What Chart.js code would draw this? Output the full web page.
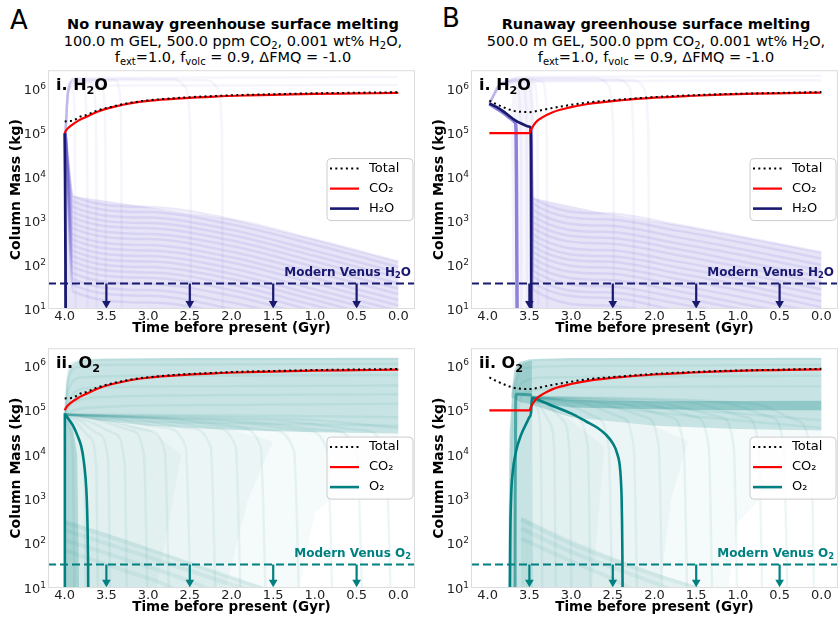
<!DOCTYPE html>
<html>
<head>
<meta charset="utf-8">
<script src="https://cdn.jsdelivr.net/npm/chart.js@4.4.1/dist/chart.umd.min.js"></script>
<style>
  body { margin: 0; width: 838px; height: 621px; overflow: hidden; background: #fff; position: relative; font-family: "DejaVu Sans", sans-serif; color: #000; }
  canvas { position: absolute; }
  .letra { position: absolute; font-size: 26px; line-height: 1; }
  .titulo { position: absolute; width: 466px; text-align: center; white-space: nowrap; font-size: 14.5px; line-height: 16.5px; }
  .titulo b { display: block; }
  sub { font-size: 10px; vertical-align: -3px; line-height: 0; }
</style>
</head>
<body>
<div class="letra" style="left:10px;top:7px">A</div>
<div class="letra" style="left:442px;top:5px">B</div>
<div class="titulo" style="left:0;top:16px">
  <b>No runaway greenhouse surface melting</b>
  <div>100.0 m GEL, 500.0 ppm CO<sub>2</sub>, 0.001 wt% H<sub>2</sub>O,</div>
  <div>f<sub>ext</sub>=1.0, f<sub>volc</sub> = 0.9, ΔFMQ = -1.0</div>
</div>
<div class="titulo" style="left:423px;top:16px">
  <b>Runaway greenhouse surface melting</b>
  <div>500.0 m GEL, 500.0 ppm CO<sub>2</sub>, 0.001 wt% H<sub>2</sub>O,</div>
  <div>f<sub>ext</sub>=1.0, f<sub>volc</sub> = 0.9, ΔFMQ = -1.0</div>
</div>
<canvas id="cA1" width="420" height="277" style="left:0;top:60px"></canvas>
<canvas id="cA2" width="420" height="278" style="left:0;top:338px"></canvas>
<canvas id="cB1" width="420" height="277" style="left:423px;top:60px"></canvas>
<canvas id="cB2" width="420" height="278" style="left:423px;top:338px"></canvas>
<script>
/* ========================
   Eixos e referências
   ======================== */
const xTicks = [4.0, 3.5, 3.0, 2.5, 2.0, 1.5, 1.0, 0.5, 0.0];
const yTicks = [1e1, 1e2, 1e3, 1e4, 1e5, 1e6];
const arrowTimes = [3.5, 2.5, 1.5, 0.5];
const venusH2O = 38;      // kg, Vênus moderno
const venusO2 = 34;
const arrowTip = 13.4;    // centro da ponta da seta

/* ========================
   A - sem derretimento (curvas principais)
   ======================== */
const co2A = [[4.0,1.0e5],[3.98,1.17e5],[3.95,1.35e5],[3.9,1.6e5],[3.85,1.85e5],[3.75,2.3e5],[3.6,3.1e5],[3.4,4.0e5],[3.2,4.8e5],[3.0,5.4e5],[2.6,6.2e5],[2.2,6.8e5],[1.8,7.2e5],[1.4,7.5e5],[1.0,7.8e5],[0.5,8.0e5],[0.0,8.2e5]];
const totalA = [[4.0,1.85e5],[3.92,1.9e5],[3.87,2.05e5],[3.83,2.3e5],[3.75,2.55e5],[3.6,3.3e5],[3.4,4.15e5],[3.2,4.95e5],[3.0,5.55e5],[2.6,6.4e5],[2.2,7.0e5],[1.8,7.45e5],[1.4,7.75e5],[1.0,8.05e5],[0.5,8.3e5],[0.0,8.5e5]];
const h2oA = [[4.0,1.0e5],[3.995,1e4],[3.99,1e2],[3.988,1]];
const o2A = [[3.998,1],[3.998,8e4],[3.95,6.2e4],[3.9,4.5e4],[3.85,2.8e4],[3.8,1.5e4],[3.77,7e3],[3.75,3e3],[3.735,1e3],[3.725,2e2],[3.72,40],[3.718,10],[3.717,1]];

// conjunto de simulações - H2O (A)
const h2oBandA = [
  [[3.99,1e5],[3.9,3700],[3.0,2100],[2.0,1100],[1.0,380],[0,120]],
  [[3.99,1e5],[3.9,2800],[3.0,1600],[2.0,840],[1.0,290],[0,90]],
  [[3.99,1e5],[3.9,2100],[3.0,1200],[2.0,630],[1.0,210],[0,68]],
  [[3.99,1e5],[3.9,1600],[3.0,900],[2.0,480],[1.0,160],[0,52]],
  [[3.99,1e5],[3.9,1200],[3.0,690],[2.0,360],[1.0,120],[0,38]],
  [[3.99,1e5],[3.9,900],[3.0,510],[2.0,270],[1.0,90],[0,29]],
  [[3.99,1e5],[3.9,680],[3.0,390],[2.0,200],[1.0,68],[0,22]],
  [[3.99,1e5],[3.9,500],[3.0,285],[2.0,150],[1.0,50],[0,16]],
  [[3.99,1e5],[3.9,380],[3.0,215],[2.0,114],[1.0,38],[0,12]],
  [[3.99,1e5],[3.9,280],[3.0,160],[2.0,84],[1.0,28],[0,9]],
  [[3.99,1e5],[3.9,210],[3.0,120],[2.0,63],[1.0,21],[0,7]],
  [[3.99,1e5],[3.9,160],[3.0,90],[2.0,48],[1.0,16],[0,5]],
  [[3.99,1e5],[3.9,120],[3.0,68],[2.0,36],[1.0,12],[0,4]],
  [[3.99,1e5],[3.9,90],[3.0,51],[2.0,27],[1.0,9],[0,3]],
  [[3.99,1e5],[3.9,65],[3.0,37],[2.0,20],[1.0,6.5],[0,2]],
  [[3.99,1e5],[3.9,48],[3.0,27],[2.0,14],[1.0,5],[0,1.5]],
  [[3.99,1e5],[3.9,35],[3.0,20],[2.0,10],[1.0,3.5],[0,1.1]],
  [[3.99,1e5],[3.9,25],[3.0,14],[2.0,7.5],[1.0,2.5],[0,0.8]]
];
const h2oWashA = [[3.99,1e5],[3.9,3700],[3.0,2100],[2.0,1100],[1.0,380],[0,120],[0,1],[3.99,1]];
const h2oHighA = [
  [[3.99,1e5],[3.97,6e5],[3.93,1.1e6],[3.9,9e5],[3.88,2e5],[3.875,1e4],[3.87,1]],
  [[3.99,1e5],[3.96,8e5],[3.9,1.3e6],[3.78,1.2e6],[3.74,3e5],[3.73,1e4],[3.725,1]],
  [[3.99,1e5],[3.96,8e5],[3.9,1.4e6],[3.68,1.4e6],[3.63,4e5],[3.62,1e4],[3.615,1]],
  [[3.99,1e5],[3.96,9e5],[3.9,1.5e6],[3.58,1.5e6],[3.52,4e5],[3.51,1e4],[3.505,1]],
  [[3.99,1e5],[3.96,9e5],[3.9,1.6e6],[3.4,1.6e6],[3.33,5e5],[3.32,1e4],[3.315,1]],
  [[3.99,1e5],[3.96,9e5],[3.88,1.7e6],[2.7,1.7e6],[2.55,1.1e6],[2.5,2e5],[2.49,1e4],[2.485,1]],
  [[3.99,1e5],[3.96,9e5],[3.88,1.6e6],[2.3,1.6e6],[2.16,1.0e6],[2.12,2e5],[2.11,1e4],[2.105,1]],
  [[3.99,1e5],[3.96,9e5],[3.88,1.8e6],[0,1.9e6]],
  [[3.99,1e5],[3.96,8e5],[3.88,1.2e6],[0,1.25e6]]
];

// conjunto de simulações - O2 (A)
const o2WashA = [[3.998,8e4],[3.98,4e5],[3.95,8e5],[3.9,1.15e6],[3.8,1.35e6],[3.5,1.45e6],[2.5,1.5e6],[0,1.5e6],[0,3e4],[1.0,3.2e4],[2.0,3.6e4],[3.0,4.5e4],[3.6,6e4],[3.9,7.5e4]];
const o2MidA = [
  [[3.998,8e4],[3.0,4.5e4],[2.0,3.6e4],[1.0,3.2e4],[0,3e4],[0,1e4],[0.5,3e3],[1.0,5e2],[1.3,1],[3.998,1]],
  [[3.998,8e4],[3.0,4.5e4],[2.0,3.6e4],[1.5,2e4],[1.8,1e3],[2.2,1],[3.998,1]],
  [[3.998,8e4],[3.0,4e4],[2.6,1e4],[2.8,1e2],[3.0,1],[3.998,1]]
];
const o2ColumnA = [[3.998,8e4],[3.9,4e4],[3.85,1e4],[3.82,1],[3.998,1]];
const o2WedgeA = [[3.998,350],[3.5,170],[3.0,80],[2.5,38],[2.0,18],[1.5,9],[1.5,5],[3.998,5]];
const o2LowA = [
  [[3.998,300],[3.0,75],[2.0,17],[1.5,8]],
  [[3.998,200],[3.0,50],[2.0,12],[1.7,8]],
  [[3.998,120],[3.0,30],[2.4,12],[2.2,8]],
  [[3.998,70],[3.2,22],[2.8,12],[2.6,8]]
];
const o2StreaksA = [
  [[3.998,8e4],[3.97,5e5],[3.9,1.2e6],[3.6,1.4e6],[0,1.45e6]],
  [[3.998,8e4],[3.96,4e5],[3.88,9e5],[3.5,1.05e6],[0,1.1e6]],
  [[3.998,8e4],[3.95,3e5],[3.8,5.5e5],[3.0,6e5],[0,6.2e5]],
  [[3.998,8e4],[3.93,2e5],[3.7,3.2e5],[2.5,3.5e5],[0,3.6e5]],
  [[3.998,8e4],[3.9,1.5e5],[3.5,2e5],[2.0,2.2e5],[0,2.3e5]],
  [[3.998,8e4],[3.8,1.1e5],[2.5,1.3e5],[0,1.4e5]],
  [[3.998,8e4],[3.5,8e4],[1.5,7.5e4],[0,7e4]],
  [[3.998,8e4],[3.3,6e4],[1.5,5e4],[0,4.5e4]]
];
const o2FanA = [
  [[3.998,8e4],[3.95,4e4],[3.9,1e4],[3.88,1]],
  [[3.998,8e4],[3.9,4.5e4],[3.8,1.5e4],[3.76,2e3],[3.75,1]],
  [[3.998,8e4],[3.85,5e4],[3.7,2.5e4],[3.62,5e3],[3.6,1]],
  [[3.998,8e4],[3.8,5.5e4],[3.6,3e4],[3.48,8e3],[3.45,1]],
  [[3.998,8e4],[3.7,5.5e4],[3.4,3e4],[3.28,6e3],[3.25,1]],
  [[3.998,8e4],[3.6,6e4],[3.2,3.5e4],[3.05,1e4],[3.0,1]],
  [[3.998,8e4],[3.5,6e4],[3.0,3.5e4],[2.8,1.2e4],[2.74,1]],
  [[3.998,8e4],[3.4,6.5e4],[2.8,4e4],[2.55,1.5e4],[2.48,1]],
  [[3.998,8e4],[3.2,6.5e4],[2.5,4e4],[2.25,1.5e4],[2.18,1]],
  [[3.998,8e4],[3.0,6.5e4],[2.2,4e4],[1.95,1.5e4],[1.88,1]],
  [[3.998,8e4],[2.8,6.5e4],[1.9,4e4],[1.65,1.5e4],[1.58,1]],
  [[3.998,8e4],[2.5,6e4],[1.5,3.5e4],[1.25,1.2e4],[1.18,1]],
  [[3.998,8e4],[2.2,6e4],[1.1,3.5e4],[0.85,1.2e4],[0.78,1]],
  [[3.998,8e4],[2.0,6e4],[0.8,3.5e4],[0.5,1.2e4],[0.42,1]],
  [[3.998,8e4],[1.5,6e4],[0.4,3.5e4],[0.15,1e4],[0.08,1]],
  [[3.998,8e4],[1.0,6e4],[0,4e4]]
];

/* ========================
   B - com derretimento (curvas principais)
   ======================== */
const co2B = [[3.98,1.0e5],[3.5,1.0e5],[3.48,1.2e5],[3.45,1.5e5],[3.42,1.8e5],[3.35,2.25e5],[3.22,3.0e5],[3.0,3.9e5],[2.8,4.6e5],[2.4,5.6e5],[2.0,6.4e5],[1.6,7.0e5],[1.2,7.5e5],[0.8,7.9e5],[0.4,8.1e5],[0.0,8.3e5]];
const totalB = [[3.98,5.5e5],[3.9,4.6e5],[3.8,3.8e5],[3.7,3.25e5],[3.6,3.05e5],[3.5,3.0e5],[3.4,3.2e5],[3.3,3.5e5],[3.2,3.8e5],[3.0,4.4e5],[2.8,5.0e5],[2.4,5.8e5],[2.0,6.6e5],[1.6,7.2e5],[1.2,7.7e5],[0.8,8.0e5],[0.4,8.3e5],[0.0,8.6e5]];
const h2oB = [[3.98,4.7e5],[3.89,3.9e5],[3.8,3.0e5],[3.68,2.0e5],[3.58,1.6e5],[3.5,1.4e5],[3.485,1.3e5],[3.48,1e4],[3.478,1e2],[3.476,1]];
const h2oClusterB = [[3.98,4.6e5],[3.9,3.7e5],[3.8,2.8e5],[3.72,2.1e5],[3.67,1.75e5],[3.66,1.2e5],[3.655,1e4],[3.65,1e2],[3.645,1]];
const o2B = [[3.735,1],[3.733,10],[3.73,1e2],[3.72,1e3],[3.70,4e3],[3.66,1.2e4],[3.6,2.8e4],[3.55,4.5e4],[3.5,7e4],[3.48,9e4],[3.47,1.9e5],[3.44,1.85e5],[3.22,1.25e5],[3.0,8.5e4],[2.82,5.6e4],[2.68,4e4],[2.58,2.8e4],[2.5,1.8e4],[2.45,1.1e4],[2.41,4.3e3],[2.395,1.2e3],[2.39,4e2],[2.385,60],[2.38,1]];
const o2ClusterB = [[3.47,2.2e5],[3.6,2.3e5],[3.655,2.3e5],[3.665,1e5],[3.67,1e3],[3.672,1]];

// conjunto de simulações - H2O (B)
const h2oBandB = [
  [[3.48,1.3e5],[3.46,3400],[2.6,1500],[1.7,800],[0.85,400],[0,195]],
  [[3.48,1.3e5],[3.46,2500],[2.6,1100],[1.7,590],[0.85,295],[0,140]],
  [[3.48,1.3e5],[3.46,1800],[2.6,790],[1.7,420],[0.85,210],[0,100]],
  [[3.48,1.3e5],[3.46,1300],[2.6,570],[1.7,305],[0.85,155],[0,75]],
  [[3.48,1.3e5],[3.46,950],[2.6,420],[1.7,225],[0.85,110],[0,54]],
  [[3.48,1.3e5],[3.46,700],[2.6,310],[1.7,165],[0.85,82],[0,40]],
  [[3.48,1.3e5],[3.46,500],[2.6,220],[1.7,118],[0.85,59],[0,28]],
  [[3.48,1.3e5],[3.46,370],[2.6,160],[1.7,87],[0.85,44],[0,21]],
  [[3.48,1.3e5],[3.46,270],[2.6,120],[1.7,63],[0.85,32],[0,15]],
  [[3.48,1.3e5],[3.46,200],[2.6,88],[1.7,47],[0.85,24],[0,11]],
  [[3.48,1.3e5],[3.46,145],[2.6,64],[1.7,34],[0.85,17],[0,8]],
  [[3.48,1.3e5],[3.46,105],[2.6,46],[1.7,25],[0.85,12],[0,6]],
  [[3.48,1.3e5],[3.46,75],[2.6,33],[1.7,18],[0.85,9],[0,4]],
  [[3.48,1.3e5],[3.46,55],[2.6,24],[1.7,13],[0.85,6.5],[0,3]],
  [[3.48,1.3e5],[3.46,40],[2.6,18],[1.7,9],[0.85,4.7],[0,2.3]],
  [[3.48,1.3e5],[3.46,28],[2.6,12],[1.7,6.6],[0.85,3.3],[0,1.6]]
];
const h2oWashB = [[3.46,3400],[2.6,1500],[1.7,800],[0.85,400],[0,195],[0,1],[3.46,1]];
const h2oHazeB = [[3.72,4e5],[3.68,1.3e6],[3.55,1.5e6],[3.45,1.4e6],[3.44,1],[3.7,1]];
const h2oHighB = [
  [[3.98,4.7e5],[3.85,1.1e6],[3.72,1.3e6],[3.64,1.0e6],[3.61,3e5],[3.6,1e4],[3.595,1]],
  [[3.98,4.7e5],[3.85,1.2e6],[3.7,1.45e6],[3.58,1.2e6],[3.54,4e5],[3.53,1e4],[3.525,1]],
  [[3.98,4.7e5],[3.85,1.2e6],[3.65,1.55e6],[3.52,1.3e6],[3.47,4e5],[3.46,1e4],[3.455,1]],
  [[3.98,4.7e5],[3.85,1.3e6],[3.6,1.6e6],[3.45,1.4e6],[3.41,5e5],[3.4,1e4],[3.395,1]],
  [[3.98,4.7e5],[3.85,1.3e6],[3.55,1.7e6],[3.35,1.5e6],[3.3,5e5],[3.29,1e4],[3.285,1]],
  [[3.98,4.7e5],[3.85,1.3e6],[3.5,1.8e6],[2.7,1.8e6],[2.55,1.2e6],[2.5,2e5],[2.49,1e4],[2.485,1]],
  [[3.98,4.7e5],[3.85,1.3e6],[3.5,1.7e6],[2.45,1.7e6],[2.3,1.1e6],[2.26,2e5],[2.25,1e4],[2.245,1]],
  [[3.98,4.7e5],[3.85,1.3e6],[3.5,1.6e6],[2.25,1.6e6],[2.12,1.0e6],[2.08,2e5],[2.07,1e4],[2.065,1]],
  [[3.98,4.7e5],[3.85,1.3e6],[3.5,1.9e6],[0,2.0e6]],
  [[3.98,4.7e5],[3.85,1.2e6],[3.5,1.5e6],[0,1.6e6]]
];

// conjunto de simulações - O2 (B)
const o2WashB = [[3.72,2e5],[3.68,8e5],[3.62,1.2e6],[3.5,1.4e6],[3.0,1.5e6],[0,1.5e6],[0,3.5e4],[1.0,3.8e4],[2.0,4.5e4],[3.0,7e4],[3.4,1.2e5],[3.5,1.4e5],[3.6,1.5e5]];
const o2CoreB = [[3.5,2e5],[3.0,1.7e5],[2.0,1.6e5],[0,1.65e5],[0,1e5],[1.0,1e5],[2.0,1.05e5],[3.0,1.15e5],[3.45,1.5e5]];
const o2MidB = [
  [[3.47,2e5],[3.0,7e4],[2.0,4.5e4],[1.0,3.8e4],[0,3.5e4],[0,1e4],[0.5,3e3],[1.0,3e2],[1.2,1],[3.47,1]],
  [[3.47,2e5],[3.0,7e4],[2.0,4.5e4],[1.6,2e4],[1.8,1e3],[2.0,1],[3.47,1]],
  [[3.47,2e5],[3.0,6e4],[2.6,1.5e4],[2.7,1e2],[2.8,1],[3.47,1]]
];
const o2ColumnB = [[3.76,1],[3.74,3e4],[3.7,3e5],[3.64,1e6],[3.55,1.2e6],[3.47,1.3e6],[3.46,1]];
const o2WedgeB = [[3.6,400],[3.0,120],[2.5,50],[2.0,22],[1.5,11],[1.2,8],[1.2,4],[3.6,4]];
const o2LowB = [
  [[3.6,350],[3.0,100],[2.0,20],[1.3,8]],
  [[3.6,220],[3.0,65],[2.2,18],[1.7,8]],
  [[3.6,130],[3.0,40],[2.5,16],[2.2,8]]
];
const o2StreaksB = [
  [[3.74,1],[3.72,1e4],[3.68,5e5],[3.6,1.2e6],[3.3,1.4e6],[0,1.45e6]],
  [[3.73,1],[3.71,1e4],[3.66,4e5],[3.55,9e5],[3.0,1e6],[0,1.05e6]],
  [[3.75,1],[3.7,2e4],[3.6,4e5],[3.3,5.5e5],[0,6e5]],
  [[3.7,1],[3.66,3e4],[3.55,2.5e5],[3.0,3.3e5],[0,3.5e5]]
];
const o2FanB = [
  [[3.47,2e5],[3.42,1.2e5],[3.37,4e4],[3.34,1]],
  [[3.47,2e5],[3.38,1.3e5],[3.25,5e4],[3.2,1e4],[3.18,1]],
  [[3.47,2e5],[3.3,1.4e5],[3.1,6e4],[3.02,1.2e4],[2.99,1]],
  [[3.47,2e5],[3.2,1.4e5],[2.95,7e4],[2.8,1.5e4],[2.76,1]],
  [[3.47,2e5],[3.1,1.5e5],[2.7,7e4],[2.55,1.5e4],[2.5,1]],
  [[3.47,2e5],[2.9,1.5e5],[2.4,7e4],[2.25,1.5e4],[2.2,1]],
  [[3.47,2e5],[2.7,1.5e5],[2.1,7e4],[1.95,1.5e4],[1.9,1]],
  [[3.47,2e5],[2.5,1.5e5],[1.8,7e4],[1.65,1.5e4],[1.6,1]],
  [[3.47,2e5],[2.2,1.5e5],[1.5,7e4],[1.35,1.5e4],[1.3,1]],
  [[3.47,2e5],[2.0,1.5e5],[1.2,7e4],[1.05,1.5e4],[1.0,1]],
  [[3.47,2e5],[1.6,1.5e5],[0.9,7e4],[0.75,1.5e4],[0.7,1]],
  [[3.47,2e5],[1.2,1.5e5],[0.6,7e4],[0.45,1.5e4],[0.4,1]],
  [[3.47,2e5],[0.8,1.4e5],[0.3,6e4],[0.12,1e4],[0.08,1]],
  [[3.47,2e5],[2.0,1.2e5],[0,6e4]],
  [[3.47,2e5],[2.0,9e4],[0,4e4]]
];

/* ========================
   Cores
   ======================== */
const NAVY = '#191970';
const TEAL = '#008080';
const RED = '#ff0000';
const H2O_LINE = 'rgba(106, 90, 205, 0.13)';
const H2O_HIGH = 'rgba(106, 90, 205, 0.06)';
const H2O_WASH = 'rgba(106, 90, 205, 0.16)';
const O2_LINE = 'rgba(0, 128, 128, 0.07)';
const O2_WASH = 'rgba(0, 128, 128, 0.22)';
const O2_MID = 'rgba(0, 128, 128, 0.04)';
const O2_LOW = 'rgba(0, 128, 128, 0.07)';

/* ========================
   Construtores de datasets
   ======================== */
const pts = arr => arr.map(([x, y]) => ({x, y}));

function line(arr, color, width, extra) {
  return Object.assign({
    data: pts(arr), borderColor: color, borderWidth: width,
    pointRadius: 0, showLine: true, fill: false, cubicInterpolationMode: 'monotone'
  }, extra || {});
}

function shape(arr, color) {
  return {
    data: pts(arr), borderWidth: 0, borderColor: 'rgba(0,0,0,0)', backgroundColor: color,
    pointRadius: 0, showLine: true, fill: 'shape', tension: 0
  };
}

function venusMarks(value, color) {
  const list = [line([[4.2, value], [-0.2, value]], color, 2, {borderDash: [8, 4], cubicInterpolationMode: 'default'})];
  arrowTimes.forEach(t => {
    list.push(line([[t, value], [t, arrowTip]], color, 2.2, {
      cubicInterpolationMode: 'default',
      pointRadius: [0, 5], pointStyle: 'triangle', pointRotation: 180,
      pointBackgroundColor: color, pointBorderColor: color, pointBorderWidth: 0
    }));
  });
  return list;
}

// o último da lista fica por cima
function stacked(list) {
  list.forEach((d, i) => { d.order = list.length - i; });
  return list;
}

/* ========================
   Texto com subscrito
   ======================== */
function rich(ctx, parts, x, y, align, size, bold, color) {
  const w = bold ? 'bold ' : '';
  const fontOf = sub => w + (sub ? size * 0.7 : size) + 'px "DejaVu Sans"';
  let total = 0;
  parts.forEach(([t, sub]) => { ctx.font = fontOf(sub); total += ctx.measureText(t).width; });
  let cx = align === 'right' ? x - total : x;
  ctx.fillStyle = color;
  ctx.textAlign = 'left';
  ctx.textBaseline = 'middle';
  parts.forEach(([t, sub]) => {
    ctx.font = fontOf(sub);
    ctx.fillText(t, cx, sub ? y + size * 0.28 : y);
    cx += ctx.measureText(t).width;
  });
}

function decoPlugin(p) {
  return {
    id: 'deco',
    afterDraw(chart) {
      const {ctx, chartArea: a, scales: {y}} = chart;
      ctx.save();

      // moldura
      ctx.strokeStyle = '#dddddd';
      ctx.lineWidth = 1;
      ctx.strokeRect(a.left + 0.5, a.top + 0.5, a.right - a.left - 1, a.bottom - a.top - 1);

      // rótulos 10^n
      yTicks.forEach(v => {
        const py = y.getPixelForValue(v);
        const exp = String(Math.round(Math.log10(v)));
        ctx.fillStyle = '#222';
        ctx.textBaseline = 'alphabetic';
        ctx.textAlign = 'right';
        ctx.font = '9px "DejaVu Sans"';
        const we = ctx.measureText(exp).width;
        ctx.fillText(exp, a.left - 2, py - 0.5);
        ctx.font = '13px "DejaVu Sans"';
        ctx.fillText('10', a.left - 2 - we, py + 4.8);
      });

      // rótulo do painel e linha de Vênus
      rich(ctx, p.label, a.left + 8, a.top + 16, 'left', 16, true, '#000');
      rich(ctx, p.venusText, a.right - 4, y.getPixelForValue(p.venus) - 11, 'right', 12, true, p.color);

      // legenda
      const bw = 86, bh = 62, r = 4;
      const bx = a.right - 2 - bw, by = (a.top + a.bottom) / 2 - bh / 2;
      ctx.beginPath();
      ctx.moveTo(bx + r, by);
      ctx.arcTo(bx + bw, by, bx + bw, by + bh, r);
      ctx.arcTo(bx + bw, by + bh, bx, by + bh, r);
      ctx.arcTo(bx, by + bh, bx, by, r);
      ctx.arcTo(bx, by, bx + bw, by, r);
      ctx.closePath();
      ctx.fillStyle = 'rgba(255,255,255,0.85)';
      ctx.fill();
      ctx.strokeStyle = '#cccccc';
      ctx.stroke();
      p.legend.forEach((e, i) => {
        const ly = by + 10 + i * 20;
        ctx.beginPath();
        ctx.setLineDash(e.dash || []);
        ctx.strokeStyle = e.color;
        ctx.lineWidth = e.width;
        ctx.moveTo(bx + 3, ly);
        ctx.lineTo(bx + 32, ly);
        ctx.stroke();
        ctx.setLineDash([]);
        ctx.fillStyle = '#000';
        ctx.font = '13px "DejaVu Sans"';
        ctx.textAlign = 'left';
        ctx.textBaseline = 'middle';
        ctx.fillText(e.text, bx + 42, ly);
      });
      ctx.restore();
    }
  };
}

/* ========================
   Opções comuns
   ======================== */
Chart.defaults.font.family = '"DejaVu Sans", sans-serif';

function baseOptions(yMax) {
  return {
    animation: false, responsive: false, events: [],
    layout: {padding: {top: 8, right: 2, left: 0, bottom: 0}},
    plugins: {legend: {display: false}, tooltip: {enabled: false}},
    scales: {
      x: {
        type: 'linear', reverse: true, min: -0.2, max: 4.2,
        afterBuildTicks: s => { s.ticks = xTicks.map(v => ({value: v})); },
        afterFit: s => { s.height = 28; },
        grid: {display: false, drawTicks: false}, border: {display: false},
        ticks: {callback: v => v.toFixed(1), font: {size: 13}, color: '#222', padding: 0, maxRotation: 0, autoSkip: false},
        title: {display: true, text: 'Time before present (Gyr)', font: {size: 13.5, weight: 'bold'}, color: '#000', padding: {top: 0, bottom: 0}}
      },
      y: {
        type: 'logarithmic', min: 10, max: yMax,
        afterBuildTicks: s => { s.ticks = yTicks.map(v => ({value: v})); },
        afterFit: s => { s.width = 48; },
        grid: {display: false, drawTicks: false}, border: {display: false},
        ticks: {callback: () => ''},
        title: {display: true, text: 'Column Mass (kg)', font: {size: 14, weight: 'bold'}, color: '#000', padding: {top: 8, bottom: 0}}
      }
    }
  };
}

const legendH2O = [
  {text: 'Total', color: '#000', width: 2, dash: [2, 3.3]},
  {text: 'CO₂', color: RED, width: 2.2},
  {text: 'H₂O', color: NAVY, width: 2.6}
];
const legendO2 = [
  {text: 'Total', color: '#000', width: 2, dash: [2, 3.3]},
  {text: 'CO₂', color: RED, width: 2.2},
  {text: 'O₂', color: TEAL, width: 2.6}
];
const labelH2O = [['i. H', 0], ['2', 1], ['O', 0]];
const labelO2 = [['ii. O', 0], ['2', 1]];
const venusTextH2O = [['Modern Venus H', 0], ['2', 1], ['O', 0]];
const venusTextO2 = [['Modern Venus O', 0], ['2', 1]];

/* ========================
   Painéis
   ======================== */
// A.i - H2O sem derretimento
new Chart(document.getElementById('cA1'), {
  type: 'scatter',
  data: {datasets: stacked([
    shape(h2oWashA, H2O_WASH),
    ...h2oBandA.map(c => line(c, H2O_LINE, 2.5)),
    ...h2oHighA.map(c => line(c, H2O_HIGH, 2.5)),
    ...venusMarks(venusH2O, NAVY),
    line(h2oA, NAVY, 2.8),
    line(co2A, RED, 2.2),
    line(totalA, '#000', 2, {borderDash: [2, 3.3]})
  ])},
  options: baseOptions(2.7e6),
  plugins: [decoPlugin({label: labelH2O, venusText: venusTextH2O, venus: venusH2O, color: NAVY, legend: legendH2O})]
});

// A.ii - O2 sem derretimento
new Chart(document.getElementById('cA2'), {
  type: 'scatter',
  data: {datasets: stacked([
    shape(o2WashA, O2_WASH),
    ...o2MidA.map(c => shape(c, O2_MID)),
    shape(o2ColumnA, O2_WASH),
    shape(o2WedgeA, O2_LOW),
    ...o2LowA.map(c => line(c, O2_LINE, 4)),
    ...o2StreaksA.map(c => line(c, O2_LINE, 2.5)),
    ...o2FanA.map(c => line(c, O2_LINE, 2.5)),
    ...venusMarks(venusO2, TEAL),
    line(o2A, TEAL, 2.6),
    line(co2A, RED, 2.2),
    line(totalA, '#000', 2, {borderDash: [2, 3.3]})
  ])},
  options: baseOptions(2.5e6),
  plugins: [decoPlugin({label: labelO2, venusText: venusTextO2, venus: venusO2, color: TEAL, legend: legendO2})]
});

// B.i - H2O com derretimento
new Chart(document.getElementById('cB1'), {
  type: 'scatter',
  data: {datasets: stacked([
    shape(h2oWashB, H2O_WASH),
    shape(h2oHazeB, 'rgba(106, 90, 205, 0.06)'),
    ...h2oBandB.map(c => line(c, H2O_LINE, 2.5)),
    ...h2oHighB.map(c => line(c, H2O_HIGH, 2.5)),
    ...venusMarks(venusH2O, NAVY),
    line(h2oClusterB, 'rgba(106, 90, 205, 0.75)', 3.5),
    line(h2oB, NAVY, 2.8),
    line(co2B, RED, 2.2),
    line(totalB, '#000', 2, {borderDash: [2, 3.3]})
  ])},
  options: baseOptions(2.7e6),
  plugins: [decoPlugin({label: labelH2O, venusText: venusTextH2O, venus: venusH2O, color: NAVY, legend: legendH2O})]
});

// B.ii - O2 com derretimento
new Chart(document.getElementById('cB2'), {
  type: 'scatter',
  data: {datasets: stacked([
    shape(o2WashB, O2_WASH),
    shape(o2CoreB, 'rgba(0, 128, 128, 0.28)'),
    ...o2MidB.map(c => shape(c, O2_MID)),
    shape(o2ColumnB, O2_WASH),
    shape(o2WedgeB, O2_LOW),
    ...o2LowB.map(c => line(c, O2_LINE, 4)),
    ...o2StreaksB.map(c => line(c, O2_LINE, 2.5)),
    ...o2FanB.map(c => line(c, O2_LINE, 2.5)),
    ...venusMarks(venusO2, TEAL),
    line(o2ClusterB, 'rgba(0, 128, 128, 0.6)', 3),
    line(o2B, TEAL, 2.6),
    line(co2B, RED, 2.2),
    line(totalB, '#000', 2, {borderDash: [2, 3.3]})
  ])},
  options: baseOptions(2.5e6),
  plugins: [decoPlugin({label: labelO2, venusText: venusTextO2, venus: venusO2, color: TEAL, legend: legendO2})]
});
</script>
</body>
</html>
